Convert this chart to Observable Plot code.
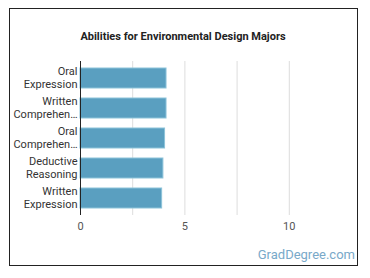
<!DOCTYPE html>
<html>
<head>
<meta charset="utf-8">
<script src="https://cdn.jsdelivr.net/npm/d3@7"></script>
<script src="https://cdn.jsdelivr.net/npm/@observablehq/plot@0.6"></script>
<style>
  html, body { margin: 0; padding: 0; background: #fff; }
  body { width: 370px; height: 278px; position: relative; overflow: hidden; font-family: Roboto, "Noto Sans", sans-serif; }
  #frame { position: absolute; left: 9px; top: 8px; width: 349px; height: 258px; border: 1px solid #222; box-sizing: border-box; }
  #title { position: absolute; left: 0; width: 366px; top: 30px; text-align: center; font-size: 11px; font-weight: bold; color: #222; }
  #chart { position: absolute; left: 0; top: 0; }
  #credit { position: absolute; right: 15px; top: 247px; font-size: 13px; color: #79a9c9; }
</style>
</head>
<body>
<div id="frame"></div>
<div id="title">Abilities for Environmental Design Majors</div>
<div id="chart"></div>
<div id="credit">GradDegree.com</div>
<script>
const abilities = ["Oral Expression", "Written Comprehension", "Oral Comprehension", "Deductive Reasoning", "Written Expression"];
const labels = [["Oral", "Expression"], ["Written", "Comprehen…"], ["Oral", "Comprehen…"], ["Deductive", "Reasoning"], ["Written", "Expression"]];
const scores = [4.12, 4.12, 4.05, 3.97, 3.91];
const xTicks = [0, 5, 10];
const gridTicks = [2.5, 5, 7.5, 10];

const data = abilities.map((a, i) => ({ability: a, score: scores[i], label: labels[i].join("\n")}));

const plot = Plot.plot({
  width: 370,
  height: 240,
  marginLeft: 80,
  marginRight: 29,
  marginTop: 61,
  marginBottom: 25,
  style: { fontFamily: "Roboto, 'Noto Sans', sans-serif", background: "transparent" },
  x: { domain: [0, 12.5], axis: null },
  y: { domain: abilities, paddingInner: 0.35, paddingOuter: 0.18, axis: null },
  marks: [
    Plot.ruleX(gridTicks, { stroke: "#dddddd", strokeWidth: 1 }),
    Plot.barX(data, { y: "ability", x: "score", fill: "#5a9fc0", stroke: "#8cc3d9", strokeWidth: 1 }),
    Plot.ruleX([0], { stroke: "#222", strokeWidth: 1 }),
    Plot.text(data, { y: "ability", frameAnchor: "left", dx: -3, dy: -1.5, text: "label", textAnchor: "end", lineHeight: 1.27, fontSize: 11, fill: "#333" }),
    Plot.text(xTicks, { x: d => d, frameAnchor: "bottom", dy: 14, text: d => String(d), fontSize: 11, fill: "#555" })
  ]
});
document.getElementById("chart").appendChild(plot);
</script>
</body>
</html>
